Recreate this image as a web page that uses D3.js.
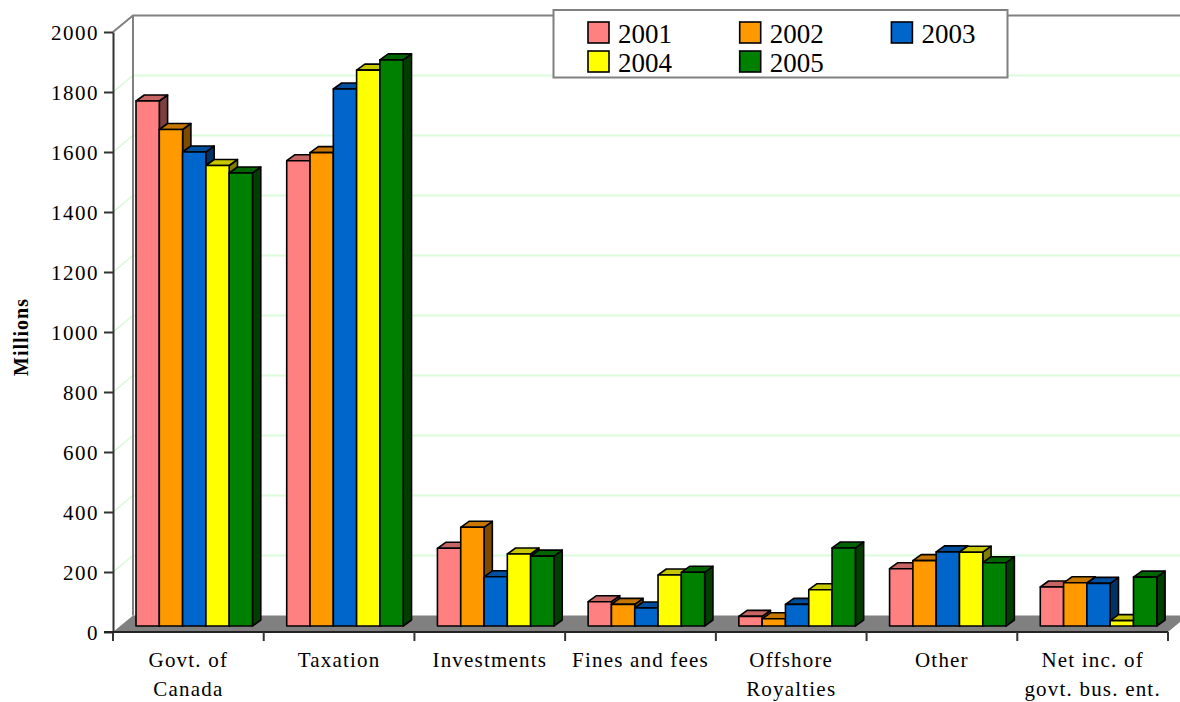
<!DOCTYPE html>
<html>
<head>
<meta charset="utf-8">
<script src="https://cdn.jsdelivr.net/npm/d3@7"></script>
<style>
  html, body { margin: 0; padding: 0; background: #fff; }
  svg { display: block; }
  svg text { font-family: "Liberation Serif", "Times New Roman", serif; }
</style>
</head>
<body>
<svg id="chart" width="1180" height="702" font-family="Liberation Serif, serif"></svg>
<script>
// Revenue sources by year (millions)
const categories = [
  ["Govt. of", "Canada"],
  ["Taxation"],
  ["Investments"],
  ["Fines and fees"],
  ["Offshore", "Royalties"],
  ["Other"],
  ["Net inc. of", "govt. bus. ent."]
];
const years = ["2001", "2002", "2003", "2004", "2005"];
const colors = ["#ff8080", "#ff9900", "#0066cc", "#ffff00", "#008000"];

const v2001 = [1750, 1551, 259, 81, 32, 191, 130];
const v2002 = [1655, 1578, 329, 72, 24, 218, 144];
const v2003 = [1580, 1790, 164, 60, 72, 247, 142];
const v2004 = [1535, 1853, 240, 170, 121, 246, 18];
const v2005 = [1510, 1887, 233, 179, 260, 211, 163];
const series = [v2001, v2002, v2003, v2004, v2005];

const yTicks = [0, 200, 400, 600, 800, 1000, 1200, 1400, 1600, 1800, 2000];

// 3D projection constants
const depthX = 20, depthY = 16.6;     // floor / wall depth
const barShiftX = 7.5, barShiftY = 6;  // bar front plane inset
const barDX = 8.3, barDY = 6;          // bar depth

const svg = d3.select("#chart");
const plotLeft = 113, plotRight = 1168, plotTop = 32, plotBottom = 632;

const x0 = d3.scaleBand().domain(d3.range(categories.length)).range([plotLeft, plotRight]);
const x1 = d3.scaleBand().domain(years).range([15.5, 15.5 + 116.5]);
const y = d3.scaleLinear().domain([0, 2000]).range([plotBottom, plotTop]);

// Back wall gridlines and side wall gridlines
const grid = svg.append("g");
yTicks.slice(1, -1).forEach(t => {
  grid.append("line")
    .attr("x1", plotLeft + depthX).attr("x2", 1190)
    .attr("y1", y(t) - depthY).attr("y2", y(t) - depthY)
    .attr("stroke", "#dcfcdc").attr("stroke-width", 2);
  grid.append("line")
    .attr("x1", plotLeft).attr("x2", plotLeft + depthX)
    .attr("y1", y(t)).attr("y2", y(t) - depthY)
    .attr("stroke", "#d0f8d0").attr("stroke-width", 1.2);
});

// Wall frame
svg.append("path")
  .attr("d", `M${plotLeft},${y(2000)} L${plotLeft + depthX},${y(2000) - depthY} L1190,${y(2000) - depthY}`)
  .attr("fill", "none").attr("stroke", "#808080").attr("stroke-width", 2);
svg.append("line")
  .attr("x1", plotLeft + depthX).attr("x2", plotLeft + depthX)
  .attr("y1", y(2000) - depthY).attr("y2", y(0) - depthY)
  .attr("stroke", "#808080").attr("stroke-width", 2);

// Floor
svg.append("path")
  .attr("d", `M${plotLeft},${y(0)} L${plotRight},${y(0)} L${plotRight + depthX},${y(0) - depthY} L${plotLeft + depthX},${y(0) - depthY} Z`)
  .attr("fill", "#808080");

// Bars
const barsG = svg.append("g");
categories.forEach((c, i) => {
  years.forEach((yr, j) => {
    const v = series[j][i];
    const col = d3.color(colors[j]);
    const xL = x0(i) + x1(yr) + barShiftX;
    const w = x1.bandwidth();
    const yT = y(v) - barShiftY;
    const yB = y(0) - barShiftY;
    const g = barsG.append("g").attr("stroke", "#000").attr("stroke-width", 1.6).attr("stroke-linejoin", "round");
    // side
    g.append("path")
      .attr("d", `M${xL + w},${yT} L${xL + w + barDX},${yT - barDY} L${xL + w + barDX},${yB - barDY} L${xL + w},${yB} Z`)
      .attr("fill", col.darker(2.0));
    // top
    g.append("path")
      .attr("d", `M${xL},${yT} L${xL + barDX},${yT - barDY} L${xL + w + barDX},${yT - barDY} L${xL + w},${yT} Z`)
      .attr("fill", col.darker(0.7));
    // front
    g.append("rect")
      .attr("x", xL).attr("y", yT).attr("width", w).attr("height", yB - yT)
      .attr("fill", colors[j]);
  });
});

// Value axis
const yAxis = svg.append("g").attr("transform", `translate(${plotLeft},0)`)
  .call(d3.axisLeft(y).tickValues(yTicks).tickFormat(d3.format("d"))
    .tickSize(9).tickPadding(5).tickSizeOuter(0));
yAxis.attr("font-family", "Liberation Serif, serif").attr("font-size", 21);
yAxis.select(".domain").attr("stroke", "#333").attr("stroke-width", 2);
yAxis.selectAll(".tick line").attr("stroke", "#333").attr("stroke-width", 2);
yAxis.selectAll(".tick text")
  .attr("fill", "#000")
  .attr("letter-spacing", "1.5px").attr("dy", "0.34em");
// extend vertical axis below zero
svg.append("line").attr("x1", plotLeft).attr("x2", plotLeft).attr("y1", plotBottom).attr("y2", plotBottom + 9)
  .attr("stroke", "#333").attr("stroke-width", 2);

// Category axis
svg.append("line").attr("x1", plotLeft - 9).attr("x2", plotRight).attr("y1", plotBottom).attr("y2", plotBottom)
  .attr("stroke", "#222").attr("stroke-width", 2);
const catTicks = d3.range(categories.length + 1).map(i => plotLeft + i * x0.bandwidth());
svg.append("g").selectAll("line").data(catTicks.slice(1)).join("line")
  .attr("x1", d => d).attr("x2", d => d).attr("y1", plotBottom).attr("y2", plotBottom + 9)
  .attr("stroke", "#333").attr("stroke-width", 2);

const catLabels = svg.append("g");
categories.forEach((lines, i) => {
  const t = catLabels.append("text")
    .attr("x", x0(i) + x0.bandwidth() / 2)
    .attr("y", 667)
    .attr("text-anchor", "middle")
    .attr("font-size", 21)
    .attr("letter-spacing", "1.2px");
  lines.forEach((ln, k) => {
    t.append("tspan").attr("x", x0(i) + x0.bandwidth() / 2).attr("dy", k === 0 ? 0 : 29).text(ln);
  });
});

// Axis title
svg.append("text")
  .attr("transform", "translate(28,337) rotate(-90)")
  .attr("text-anchor", "middle")
  .attr("font-size", 20).attr("font-weight", "bold")
  .attr("letter-spacing", "1px")
  .text("Millions");

// Legend
const legend = svg.append("g");
legend.append("rect")
  .attr("x", 553.5).attr("y", 10).attr("width", 454).attr("height", 67.5)
  .attr("fill", "#fff").attr("stroke", "#808080").attr("stroke-width", 2);
years.forEach((yr, j) => {
  const col = j % 3, row = Math.floor(j / 3);
  const lx = 588 + col * 151.7, ly = 22 + row * 29;
  legend.append("rect")
    .attr("x", lx).attr("y", ly).attr("width", 21).attr("height", 21)
    .attr("fill", colors[j]).attr("stroke", "#000").attr("stroke-width", 1.6);
  legend.append("text")
    .attr("x", lx + 30).attr("y", ly + 20.5)
    .attr("font-size", 27)
    .text(yr);
});
</script>
</body>
</html>
